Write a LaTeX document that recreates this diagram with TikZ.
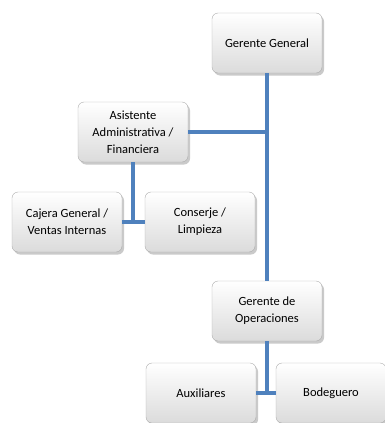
\documentclass[tikz,border=0pt]{standalone}
\usepackage{fontspec}
\setmainfont{Carlito}
\usetikzlibrary{shadows}
\definecolor{linkblue}{RGB}{79,129,189}
\tikzset{
    orgbox/.style={draw=gray!65, rounded corners=6pt, top color=white, bottom color=gray!28,
        minimum width=110pt, minimum height=60pt, align=center, inner sep=2pt,
        font=\fontsize{12.5}{17}\selectfont,
        drop shadow={shadow xshift=2pt, shadow yshift=-2.5pt, fill=gray!70, opacity=0.6}},
    link/.style={draw=linkblue, line width=3.4pt}
}
\begin{document}
\begin{tikzpicture}[x=1pt,y=-1pt]
    % Page frame, same proportions as the chart
    \useasboundingbox (0,0) rectangle (385,423);

    % Top of the chart
    \node[orgbox] (gg) at (267,43) {Gerente General};
    \node[orgbox] (asis) at (133,132) {Asistente\\Administrativa /\\Financiera};

    % Staff under the assistant
    \node[orgbox] (cajera) at (67,222) {Cajera General /\\Ventas Internas};
    \node[orgbox] (conserje) at (200,222) {Conserje /\\Limpieza};

    % Operations branch
    \node[orgbox] (gop) at (267,311) {Gerente de\\Operaciones};
    \node[orgbox] (aux) at (201,393) {Auxiliares};
    \node[orgbox] (bod) at (331,393) {Bodeguero};

    % Connectors
    \draw[link] (gg.south) -- (gop.north);
    \draw[link] (asis.east) -- (asis.east -| gg.south);
    \draw[link] (asis.south) |- (cajera.east);
    \draw[link] (asis.south) |- (conserje.west);
    \draw[link] (gop.south) |- (aux.east);
    \draw[link] (gop.south) |- (bod.west);
\end{tikzpicture}
\end{document}
